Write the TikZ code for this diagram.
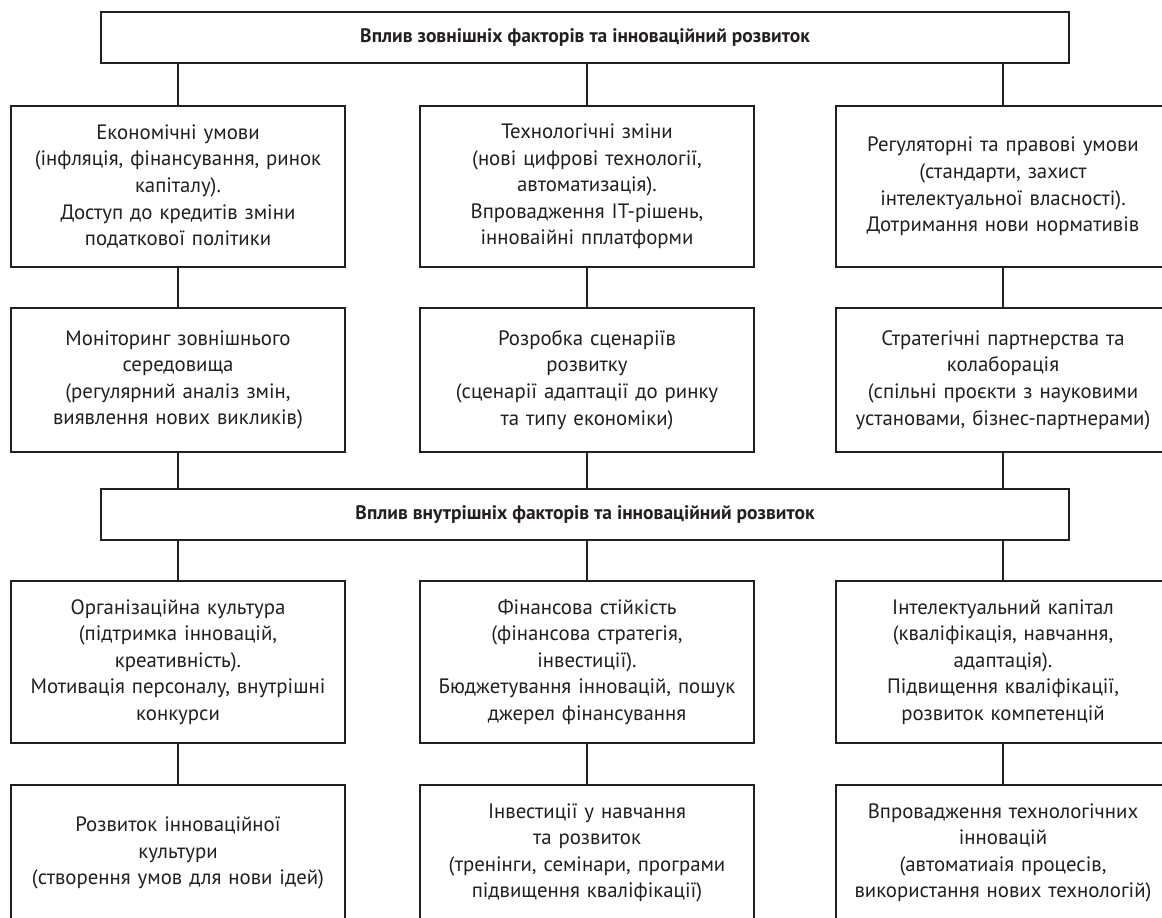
\documentclass[tikz,border=0pt]{standalone}
\usepackage{fontspec}
\setmainfont{PT Sans}
\definecolor{ink}{HTML}{231F20}
\begin{document}
\begin{tikzpicture}[x=1pt,y=-1pt,
  box/.style={draw=ink, line width=2pt, minimum width=334pt, text width=332pt, align=center, text=ink, inner sep=0pt, font=\fontsize{20.8}{26.6}\selectfont},
  headbox/.style={draw=ink, line width=2pt, minimum width=968pt, minimum height=51pt, align=center, text=ink, inner sep=0pt, font=\fontsize{19.5}{22}\selectfont\bfseries},
  conn/.style={draw=ink, line width=1.3pt}]
\useasboundingbox (0,0) rectangle (1162,918);
\clip (0,0) rectangle (1162,918);
\fill[white] (0,0) rectangle (1162,918);

\node[headbox] (top) at (585,37.5) {Вплив зовнішніх факторів та інноваційний розвиток};

\node[box, minimum height=161pt] (r1c1) at (178,186.5) {Економічні умови\\(інфляція, фінансування, ринок\\капіталу).\\Доступ до кредитів зміни\\податкової політики};
\node[box, minimum height=161pt] (r1c2) at (587,186.5) {Технологічні зміни\\(нові цифрові технології,\\автоматизація).\\Впровадження IT-рішень,\\інноваійні пплатформи};
\node[box, minimum height=161pt] (r1c3) at (1003,186.5) {Регуляторні та правові умови\\(стандарти, захист\\інтелектуальної власності).\\Дотримання нови нормативів};

\node[box, minimum height=144pt] (r2c1) at (178,380) {Моніторинг зовнішнього\\середовища\\(регулярний аналіз змін,\\виявлення нових викликів)};
\node[box, minimum height=144pt] (r2c2) at (587,380) {Розробка сценаріїв\\розвитку\\(сценарії адаптації до ринку\\та типу економіки)};
\node[box, minimum height=144pt] (r2c3) at (1003,380) {Стратегічні партнерства та\\колаборація\\(спільні проєкти з науковими\\установами, бізнес-партнерами)};

\node[headbox] (mid) at (585,514.5) {Вплив внутрішніх факторів та інноваційний розвиток};

\node[box, minimum height=162pt] (r3c1) at (178,662) {Організаційна культура\\(підтримка інновацій,\\креативність).\\Мотивація персоналу, внутрішні\\конкурси};
\node[box, minimum height=162pt] (r3c2) at (587,662) {Фінансова стійкість\\(фінансова стратегія,\\інвестиції).\\Бюджетування інновацій, пошук\\джерел фінансування};
\node[box, minimum height=162pt] (r3c3) at (1003,662) {Інтелектуальний капітал\\(кваліфікація, навчання,\\адаптація).\\Підвищення кваліфікації,\\розвиток компетенцій};

\node[box, minimum height=136pt] (r4c1) at (178,853) {Розвиток інноваційної\\культури\\(створення умов для нови ідей)};
\node[box, minimum height=136pt] (r4c2) at (587,853) {Інвестиції у навчання\\та розвиток\\(тренінги, семінари, програми\\підвищення кваліфікації)};
\node[box, minimum height=136pt] (r4c3) at (1003,853) {Впровадження технологічних\\інновацій\\(автоматиаія процесів,\\використання нових технологій)};

\foreach \c in {c1,c2,c3}{
  \draw[conn] (top.south -| r1\c) -- (r1\c.north);
  \draw[conn] (r1\c.south) -- (r2\c.north);
  \draw[conn] (r2\c.south) -- (mid.north -| r2\c);
  \draw[conn] (mid.south -| r3\c) -- (r3\c.north);
  \draw[conn] (r3\c.south) -- (r4\c.north);
}
\end{tikzpicture}
\end{document}
